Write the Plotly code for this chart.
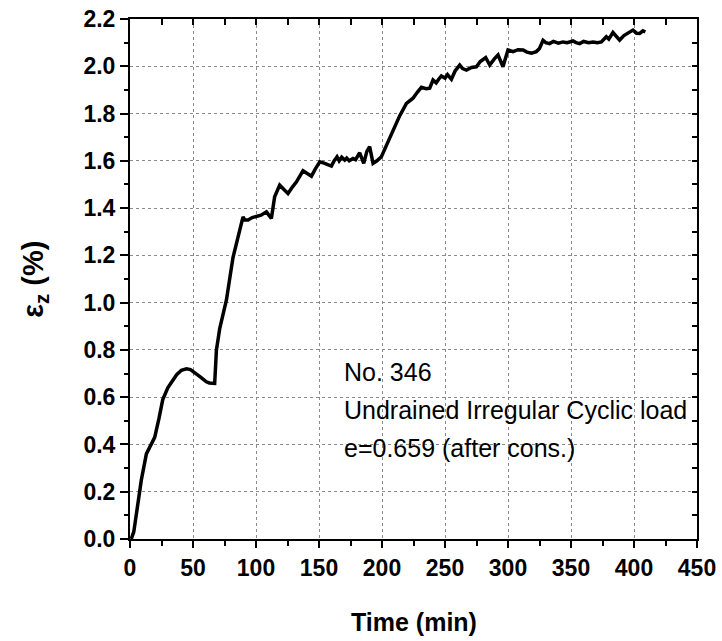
import plotly.graph_objects as go

time_min = [1, 3, 6, 9, 13, 15.6, 19.6, 23, 26, 30, 33, 37, 40.8, 44.8, 48, 52.7, 56, 60.6, 63, 67.2, 68.6,
            71.2, 76.5, 81.7, 86, 89.7, 91, 93.7, 97, 100.3, 104, 108.3, 110, 112.2, 114.8, 118.8, 122, 125.4,
            129, 132, 137.3, 140, 144, 147, 150.6, 154, 157, 159.8, 162, 164.3, 166, 168, 170.4, 172, 174,
            177, 179, 182.3, 184, 185.5, 188, 190.2, 192.9, 196, 199.5, 203, 206, 210, 214, 219.4, 222, 224.6,
            228, 231.3, 235, 237.9, 240.5, 243, 245, 247.1, 250, 252, 255.1, 258, 261.7, 264, 267, 271, 274.9,
            278, 282.3, 285.5, 289, 292.1, 296, 300, 304, 308, 312, 315, 318.6, 322.5, 325, 327.8, 330, 333,
            336, 340, 343.6, 347, 351.6, 354, 356.9, 360, 364, 367.5, 371, 374.1, 378, 380, 383.3, 386,
            388.6, 392, 395.2, 399.2, 402, 404.5, 407.1, 409]
strain_pct = [0.0, 0.03, 0.14, 0.25, 0.36, 0.39, 0.43, 0.51, 0.59, 0.64, 0.665, 0.695, 0.714, 0.72, 0.717, 0.70,
              0.685, 0.665, 0.66, 0.658, 0.80,
              0.89, 1.01, 1.19, 1.29, 1.363, 1.35, 1.35, 1.36, 1.363, 1.37, 1.384, 1.37, 1.356, 1.448, 1.497,
              1.48, 1.462, 1.49, 1.51, 1.558, 1.55, 1.535, 1.565, 1.596, 1.59, 1.585, 1.578, 1.60, 1.617,
              1.60, 1.615, 1.603, 1.612, 1.60, 1.61, 1.605, 1.634, 1.61, 1.589, 1.64, 1.66, 1.589, 1.60,
              1.617, 1.66, 1.70, 1.75, 1.79, 1.843, 1.855, 1.865, 1.89, 1.911, 1.905, 1.907, 1.942, 1.93,
              1.945, 1.959, 1.95, 1.965, 1.945, 1.98, 2.005, 1.99, 1.984, 1.995, 1.998, 2.02, 2.037, 2.005,
              2.03, 2.048, 1.998, 2.069, 2.062, 2.07, 2.069, 2.06, 2.055, 2.062, 2.075, 2.11, 2.10, 2.096,
              2.105, 2.098, 2.103, 2.10, 2.107, 2.10, 2.096, 2.105, 2.10, 2.103, 2.10, 2.103, 2.125, 2.115,
              2.143, 2.125, 2.111, 2.13, 2.139, 2.153, 2.14, 2.139, 2.15, 2.145]

x_ticks = [0, 50, 100, 150, 200, 250, 300, 350, 400, 450]
y_ticks = [0.0, 0.2, 0.4, 0.6, 0.8, 1.0, 1.2, 1.4, 1.6, 1.8, 2.0, 2.2]
notes = ["No. 346", "Undrained Irregular Cyclic load", "e=0.659 (after cons.)"]
note_y = [0.707, 0.545, 0.383]

FONT = "Liberation Sans, Arial, sans-serif"

fig = go.Figure()
fig.add_trace(go.Scatter(x=time_min, y=strain_pct, mode="lines",
                         line=dict(color="black", width=3.5), showlegend=False))
fig.add_trace(go.Scatter(x=[0, 450], y=[0, 2.2], xaxis="x2", yaxis="y2", mode="markers",
                         marker=dict(opacity=0), showlegend=False, hoverinfo="skip"))

for t, yy in zip(notes, note_y):
    fig.add_annotation(x=168.5, y=yy, xref="x", yref="y", text=t, showarrow=False,
                       xanchor="left", yanchor="middle",
                       font=dict(family=FONT, size=25, color="black"))

fig.add_annotation(x=0.5, y=-0.16, xref="paper", yref="paper", text="<b>Time (min)</b>",
                   showarrow=False, xanchor="center", yanchor="middle",
                   font=dict(family=FONT, size=25, color="black"))
fig.add_annotation(x=-0.168, y=0.5, xref="paper", yref="paper", text="<b>ε<sub>z</sub> (%)</b>",
                   showarrow=False, xanchor="center", yanchor="middle", textangle=-90,
                   font=dict(family=FONT, size=29, color="black"))

fig.update_layout(
    width=722, height=641,
    margin=dict(l=130, r=25, t=19, b=102),
    plot_bgcolor="white", paper_bgcolor="white",
    xaxis=dict(range=[0, 450], tickvals=x_ticks, ticks="outside", ticklen=7, tickwidth=2,
               tickcolor="black", showline=True, linecolor="black", linewidth=2, automargin=False,
               ticklabeloverflow="allow",
               showgrid=True, gridcolor="#8a8a8a", griddash="dot", gridwidth=1, zeroline=False,
               minor=dict(dtick=25, ticks="outside", ticklen=5, tickwidth=2, tickcolor="black", showgrid=False),
               tickfont=dict(family=FONT, size=23, color="black", weight="bold")),
    yaxis=dict(range=[0, 2.2], tickvals=y_ticks, tickformat=".1f", ticks="outside", ticklen=8, tickwidth=2,
               tickcolor="black", showline=True, linecolor="black", linewidth=2, automargin=False,
               ticklabeloverflow="allow",
               showgrid=True, gridcolor="#8a8a8a", griddash="dot", gridwidth=1, zeroline=False,
               minor=dict(dtick=0.1, ticks="outside", ticklen=4, tickwidth=2, tickcolor="black", showgrid=False),
               tickfont=dict(family=FONT, size=23, color="black", weight="bold")),
    xaxis2=dict(range=[0, 450], overlaying="x", side="top", matches="x", dtick=25, ticks="inside",
                ticklen=6, tickwidth=2, tickcolor="black", showticklabels=False, showline=True,
                linecolor="black", linewidth=2, showgrid=False, zeroline=False, automargin=False),
    yaxis2=dict(range=[0, 2.2], overlaying="y", side="right", matches="y", dtick=0.1, ticks="inside",
                ticklen=5, tickwidth=2, tickcolor="black", showticklabels=False, showline=True,
                linecolor="black", linewidth=2, showgrid=False, zeroline=False, automargin=False),
)

fig.write_html("out.html", config={"displayModeBar": False},
               post_script="document.body.style.margin='0';")
